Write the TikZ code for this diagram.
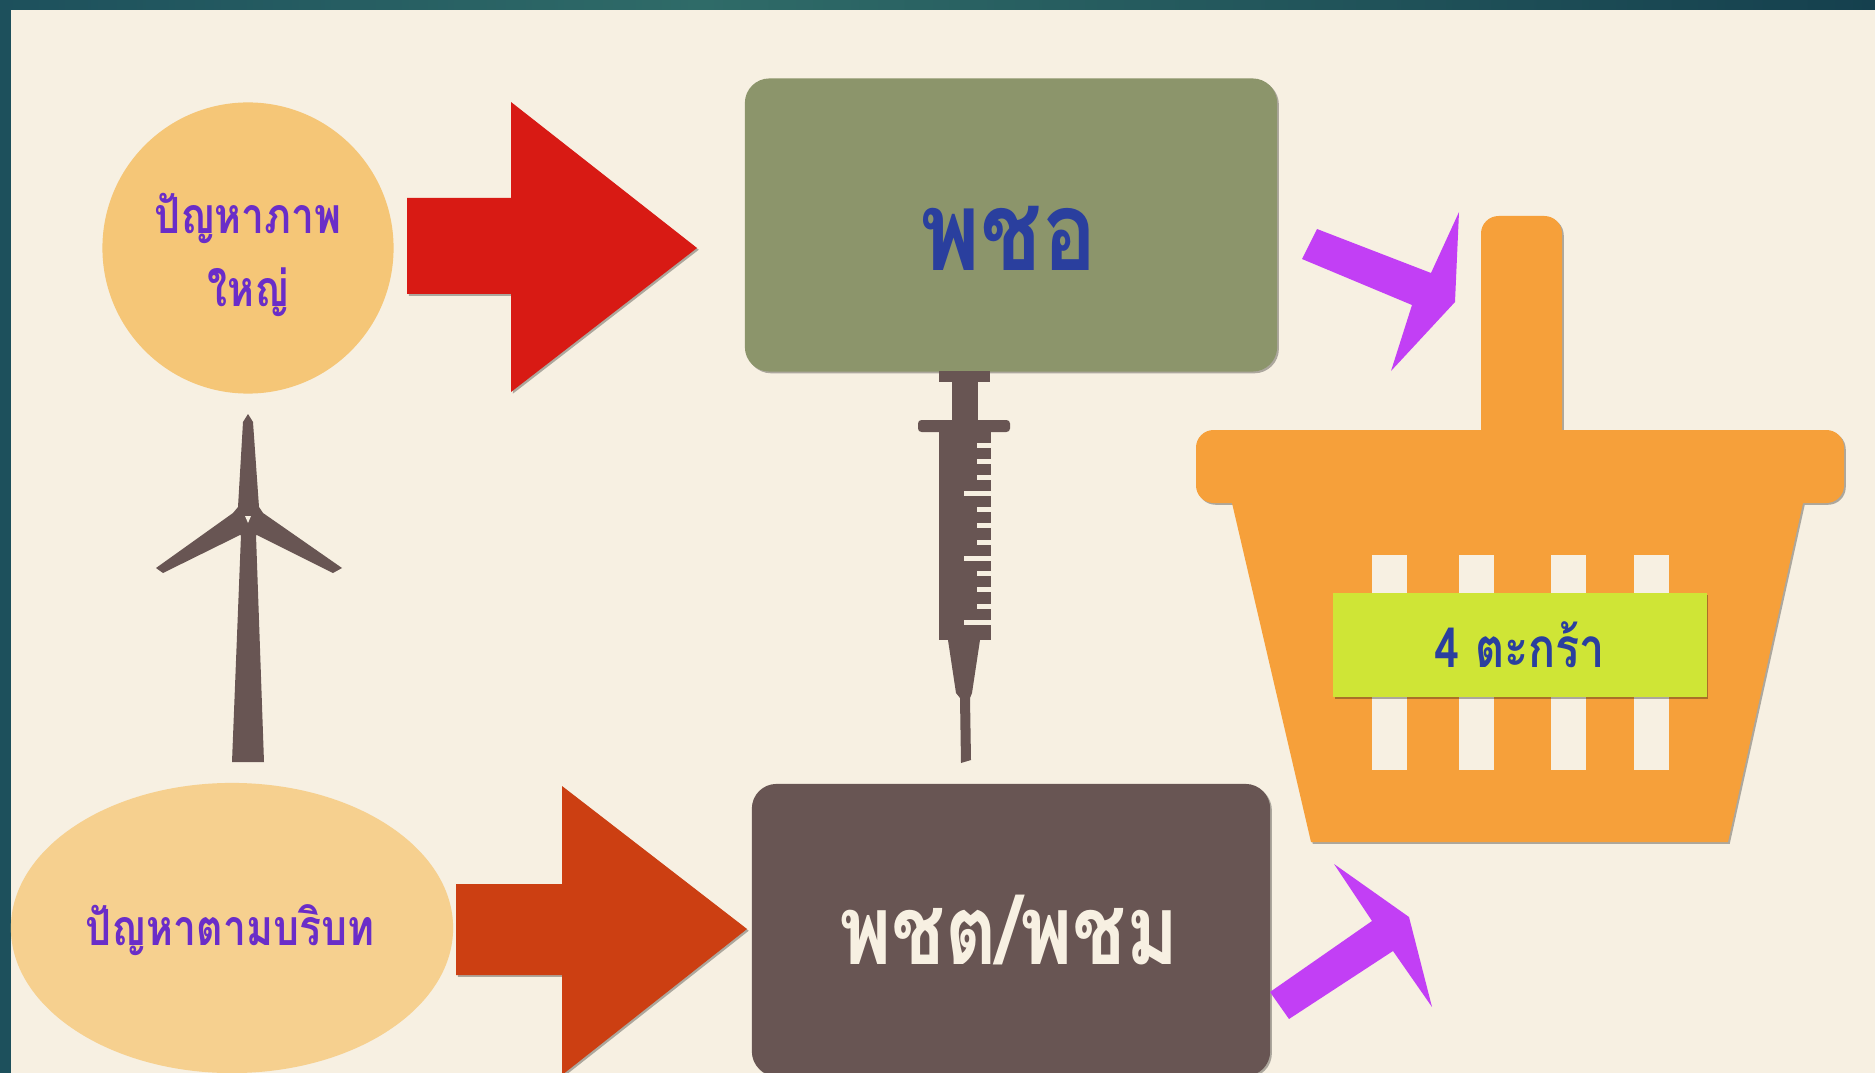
\documentclass[tikz,border=0pt]{standalone}
\usepackage{fontspec}
\usetikzlibrary{shapes.geometric,shadows}
\newfontfamily\thaifont[Script=Thai,FakeStretch=0.82]{Loma}
\definecolor{paper}{HTML}{F7F0E2}
\definecolor{teal1}{HTML}{1D505C}
\definecolor{teal2}{HTML}{2F6B68}
\definecolor{teal3}{HTML}{15404E}
\definecolor{sand}{HTML}{F5C677}
\definecolor{sandlight}{HTML}{F6D08F}
\definecolor{olive}{HTML}{8C956B}
\definecolor{cocoa}{HTML}{685553}
\definecolor{redhead}{HTML}{D81A14}
\definecolor{rusthead}{HTML}{CC3F12}
\definecolor{violet}{HTML}{C23FF5}
\definecolor{basket}{HTML}{F6A03A}
\definecolor{lime}{HTML}{CFE536}
\definecolor{inkblue}{HTML}{2A3F9E}
\definecolor{inkviolet}{HTML}{6A2DC8}
\begin{document}
\begin{tikzpicture}[x=0.01cm,y=-0.01cm,line join=round,
		softshadow/.style={general shadow={fill=black,opacity=0.3,shadow xshift=0.5pt,shadow yshift=-0.5pt}},
		thaismall/.style={text=inkviolet,align=center,font=\thaifont\bfseries\fontsize{14.2}{21}\selectfont},
		roundbox/.style={rectangle,rounded corners=7pt,softshadow}]
	\useasboundingbox (0,0) rectangle (1875,1073);
	\clip (0,0) rectangle (1875,1073);
	\fill[paper] (0,0) rectangle (1875,1073);
	\fill[teal1] (0,0) rectangle (11,1073);
	\fill[left color=teal1,right color=teal2] (0,0) rectangle (700,10);
	\fill[left color=teal2,right color=teal3] (700,0) rectangle (1875,10);
	\node[circle,fill=sand,minimum size=2.91cm,inner sep=0pt] (bigpic) at (248,248) {};
	\node[ellipse,fill=sandlight,minimum width=4.42cm,minimum height=2.9cm,inner sep=0pt] (context) at (232,928) {};
	\node[roundbox,fill=olive,minimum width=5.32cm,minimum height=2.93cm] (agri) at (1011,225) {};
	\node[roundbox,fill=cocoa,minimum width=5.18cm,minimum height=2.92cm] (local) at (1011,930) {};
	\node[thaismall] (bigpictext) at (248,255) {ปัญหาภาพ\\ใหญ่};
	\node[thaismall] (contexttext) at (230,930) {ปัญหาตามบริบท};
	\node[text=inkblue,font=\thaifont\bfseries\fontsize{31.5}{36}\selectfont] (agritext) at (1009,238) {พชอ};
	\node[text=paper,font=\thaifont\bfseries\fontsize{27.5}{32}\selectfont] (localtext) at (1009,930) {พชต/พชม};
	\fill[redhead,softshadow] (407,198) -- (511,198) -- (511,102) -- (697,248) -- (511,392) -- (511,294) -- (407,294) -- cycle;
	\fill[rusthead,softshadow] (456,884) -- (562,884) -- (562,786) -- (747,929) -- (562,1075) -- (562,975) -- (456,975) -- cycle;
	\fill[violet] (1317,229) -- (1431,273) -- (1459,212) -- (1455,302) -- (1391,371) -- (1412,305) -- (1302,259) -- cycle;
	\fill[violet] (1270,992) -- (1372,921) -- (1334,864) -- (1409,917) -- (1432,1007) -- (1393,951) -- (1289,1019) -- cycle;
	\fill[cocoa] (248,414) -- (253,422) -- (259,507) -- (263,513) -- (342,568) -- (333,573) -- (257,535) -- (256,535) -- (264,762) -- (232,762) -- (241,535) -- (240,535) -- (163,573) -- (156,568) -- (233,513) -- (238,507) -- (243,422) -- cycle;
	\fill[cocoa] (248,520) circle (15);
	\fill[paper] (245,516) -- (251,516) -- (248,523) -- cycle;
	\fill[cocoa] (939,371) rectangle (990,382);
	\fill[cocoa] (952,382) rectangle (978,420);
	\fill[cocoa,rounded corners=1pt] (918,420) rectangle (1010,432);
	\fill[cocoa] (939,432) rectangle (991,640);
	\fill[cocoa] (948,640) -- (980,640) -- (972,693) -- (970,698) -- (971,760) -- (961,763) -- (960,698) -- (956,693) -- cycle;
	\foreach \ypos/\xend in {445/977,461/977,477/977,493/964,509/977,525/977,542/977,558/964,573/977,589/977,606/977,622/964}
		\fill[paper] (\xend,\ypos-2.5) rectangle (992,\ypos+2.5);
	\fill[basket,softshadow] (1481,430) [rounded corners=5pt] -- (1481,216) -- (1562,216) [sharp corners] -- (1562,430) [rounded corners=5pt] -- (1844,430) -- (1844,503) [sharp corners] -- (1803,503) -- (1728,842) -- (1311,842) -- (1232,503) [rounded corners=5pt] -- (1196,503) -- (1196,430) [sharp corners] -- cycle;
	\foreach \xpos in {1372,1459,1551,1634}
		\fill[paper] (\xpos,555) rectangle (\xpos+35,770);
	\node[rectangle,fill=lime,softshadow,minimum width=3.73cm,minimum height=1.04cm,inner sep=0pt,text=inkblue,font=\thaifont\bfseries\fontsize{15.6}{18}\selectfont] (count) at (1520,645) {4 ตะกร้า};
\end{tikzpicture}
\end{document}
